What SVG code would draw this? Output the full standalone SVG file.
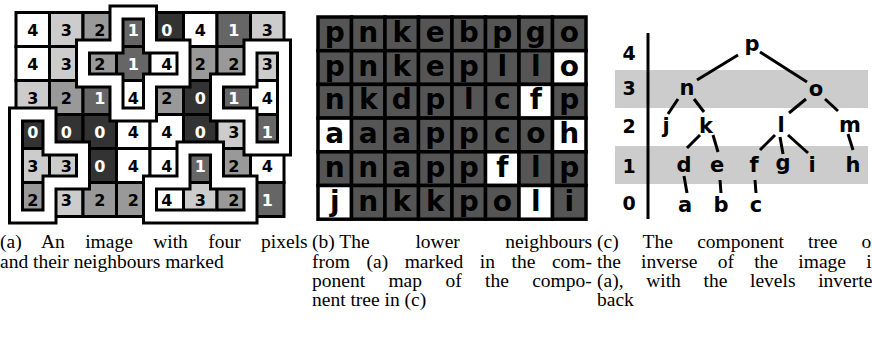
<svg xmlns="http://www.w3.org/2000/svg" width="872" height="338" viewBox="0 0 872 338">
<style>
.c4{fill:#fff}.c3{fill:#ccc}.c2{fill:#999}.c1{fill:#666}.c0{fill:#333}
#panel-a rect{stroke:#000;stroke-width:3}
.da{font-family:"DejaVu Sans",sans-serif;font-weight:bold;font-size:16px;text-anchor:middle;fill:#000}
.da.w{fill:#fff}
.bandk{fill:none;stroke:#000;stroke-width:16;stroke-linejoin:miter}
.bandw{fill:none;stroke:#fff;stroke-width:10;stroke-linejoin:miter}
#panel-b rect{fill:#555;stroke:#000;stroke-width:3.5}
#panel-b rect.w{fill:#fff}
.lb{font-family:"DejaVu Sans",sans-serif;font-weight:bold;font-size:28px;text-anchor:middle;fill:#000}
.tn{font-family:"DejaVu Sans",sans-serif;font-weight:bold;font-size:21px;text-anchor:middle;fill:#000}
.lv{font-family:"DejaVu Sans",sans-serif;font-weight:bold;font-size:19px;text-anchor:middle;fill:#000}
.edge{stroke:#000;stroke-width:3;fill:none}
.cap{font-family:"Liberation Serif",serif;font-size:19.5px;fill:#000}
</style>

<g id="panel-a">
<g id="a-cells">
<rect class="c4" x="16" y="12.5" width="33.5" height="34"/><rect class="c3" x="49.5" y="12.5" width="33.5" height="34"/><rect class="c2" x="83" y="12.5" width="33.5" height="34"/><rect class="c1" x="116.5" y="12.5" width="33.5" height="34"/><rect class="c0" x="150" y="12.5" width="33.5" height="34"/><rect class="c4" x="183.5" y="12.5" width="33.5" height="34"/><rect class="c1" x="217" y="12.5" width="33.5" height="34"/><rect class="c3" x="250.5" y="12.5" width="33.5" height="34"/>
<rect class="c4" x="16" y="46.5" width="33.5" height="34"/><rect class="c3" x="49.5" y="46.5" width="33.5" height="34"/><rect class="c2" x="83" y="46.5" width="33.5" height="34"/><rect class="c1" x="116.5" y="46.5" width="33.5" height="34"/><rect class="c4" x="150" y="46.5" width="33.5" height="34"/><rect class="c2" x="183.5" y="46.5" width="33.5" height="34"/><rect class="c2" x="217" y="46.5" width="33.5" height="34"/><rect class="c3" x="250.5" y="46.5" width="33.5" height="34"/>
<rect class="c3" x="16" y="80.5" width="33.5" height="34"/><rect class="c2" x="49.5" y="80.5" width="33.5" height="34"/><rect class="c1" x="83" y="80.5" width="33.5" height="34"/><rect class="c4" x="116.5" y="80.5" width="33.5" height="34"/><rect class="c2" x="150" y="80.5" width="33.5" height="34"/><rect class="c0" x="183.5" y="80.5" width="33.5" height="34"/><rect class="c1" x="217" y="80.5" width="33.5" height="34"/><rect class="c4" x="250.5" y="80.5" width="33.5" height="34"/>
<rect class="c0" x="16" y="114.5" width="33.5" height="34"/><rect class="c0" x="49.5" y="114.5" width="33.5" height="34"/><rect class="c0" x="83" y="114.5" width="33.5" height="34"/><rect class="c4" x="116.5" y="114.5" width="33.5" height="34"/><rect class="c4" x="150" y="114.5" width="33.5" height="34"/><rect class="c0" x="183.5" y="114.5" width="33.5" height="34"/><rect class="c3" x="217" y="114.5" width="33.5" height="34"/><rect class="c1" x="250.5" y="114.5" width="33.5" height="34"/>
<rect class="c3" x="16" y="148.5" width="33.5" height="34"/><rect class="c3" x="49.5" y="148.5" width="33.5" height="34"/><rect class="c0" x="83" y="148.5" width="33.5" height="34"/><rect class="c4" x="116.5" y="148.5" width="33.5" height="34"/><rect class="c4" x="150" y="148.5" width="33.5" height="34"/><rect class="c1" x="183.5" y="148.5" width="33.5" height="34"/><rect class="c2" x="217" y="148.5" width="33.5" height="34"/><rect class="c4" x="250.5" y="148.5" width="33.5" height="34"/>
<rect class="c2" x="16" y="182.5" width="33.5" height="34"/><rect class="c3" x="49.5" y="182.5" width="33.5" height="34"/><rect class="c2" x="83" y="182.5" width="33.5" height="34"/><rect class="c2" x="116.5" y="182.5" width="33.5" height="34"/><rect class="c4" x="150" y="182.5" width="33.5" height="34"/><rect class="c3" x="183.5" y="182.5" width="33.5" height="34"/><rect class="c2" x="217" y="182.5" width="33.5" height="34"/><rect class="c1" x="250.5" y="182.5" width="33.5" height="34"/>
</g>
<g id="a-marks">
<path class="bandk" d="M116.5,12.5H150V46.5H183.5V80.5H150V114.5H116.5V80.5H83V46.5H116.5Z"/>
<path class="bandk" d="M250.5,46.5H284V148.5H250.5V114.5H217V80.5H250.5Z"/>
<path class="bandk" d="M16,114.5H49.5V148.5H83V182.5H49.5V216.5H16Z"/>
<path class="bandk" d="M183.5,148.5H217V182.5H250.5V216.5H150V182.5H183.5Z"/>
<path class="bandw" d="M116.5,12.5H150V46.5H183.5V80.5H150V114.5H116.5V80.5H83V46.5H116.5Z"/>
<path class="bandw" d="M250.5,46.5H284V148.5H250.5V114.5H217V80.5H250.5Z"/>
<path class="bandw" d="M16,114.5H49.5V148.5H83V182.5H49.5V216.5H16Z"/>
<path class="bandw" d="M183.5,148.5H217V182.5H250.5V216.5H150V182.5H183.5Z"/>
</g>
<g id="a-values">
<text class="da" x="32.75" y="35.5">4</text><text class="da" x="66.25" y="35.5">3</text><text class="da" x="99.75" y="35.5">2</text><text class="da w" x="133.25" y="35.5">1</text><text class="da w" x="166.75" y="35.5">0</text><text class="da" x="200.25" y="35.5">4</text><text class="da w" x="233.75" y="35.5">1</text><text class="da" x="267.25" y="35.5">3</text>
<text class="da" x="32.75" y="69.5">4</text><text class="da" x="66.25" y="69.5">3</text><text class="da" x="99.75" y="69.5">2</text><text class="da w" x="133.25" y="69.5">1</text><text class="da" x="166.75" y="69.5">4</text><text class="da" x="200.25" y="69.5">2</text><text class="da" x="233.75" y="69.5">2</text><text class="da" x="267.25" y="69.5">3</text>
<text class="da" x="32.75" y="103.5">3</text><text class="da" x="66.25" y="103.5">2</text><text class="da w" x="99.75" y="103.5">1</text><text class="da" x="133.25" y="103.5">4</text><text class="da" x="166.75" y="103.5">2</text><text class="da w" x="200.25" y="103.5">0</text><text class="da w" x="233.75" y="103.5">1</text><text class="da" x="267.25" y="103.5">4</text>
<text class="da w" x="32.75" y="137.5">0</text><text class="da w" x="66.25" y="137.5">0</text><text class="da w" x="99.75" y="137.5">0</text><text class="da" x="133.25" y="137.5">4</text><text class="da" x="166.75" y="137.5">4</text><text class="da w" x="200.25" y="137.5">0</text><text class="da" x="233.75" y="137.5">3</text><text class="da w" x="267.25" y="137.5">1</text>
<text class="da" x="32.75" y="171.5">3</text><text class="da" x="66.25" y="171.5">3</text><text class="da w" x="99.75" y="171.5">0</text><text class="da" x="133.25" y="171.5">4</text><text class="da" x="166.75" y="171.5">4</text><text class="da w" x="200.25" y="171.5">1</text><text class="da" x="233.75" y="171.5">2</text><text class="da" x="267.25" y="171.5">4</text>
<text class="da" x="32.75" y="205.5">2</text><text class="da" x="66.25" y="205.5">3</text><text class="da" x="99.75" y="205.5">2</text><text class="da" x="133.25" y="205.5">2</text><text class="da" x="166.75" y="205.5">4</text><text class="da" x="200.25" y="205.5">3</text><text class="da" x="233.75" y="205.5">2</text><text class="da w" x="267.25" y="205.5">1</text>
</g>
</g>

<g id="panel-b">
<g id="b-cells">
<rect x="318" y="17" width="33.5" height="33.7"/><rect x="351.5" y="17" width="33.5" height="33.7"/><rect x="385" y="17" width="33.5" height="33.7"/><rect x="418.5" y="17" width="33.5" height="33.7"/><rect x="452" y="17" width="33.5" height="33.7"/><rect x="485.5" y="17" width="33.5" height="33.7"/><rect x="519" y="17" width="33.5" height="33.7"/><rect x="552.5" y="17" width="33.5" height="33.7"/>
<rect x="318" y="50.7" width="33.5" height="33.7"/><rect x="351.5" y="50.7" width="33.5" height="33.7"/><rect x="385" y="50.7" width="33.5" height="33.7"/><rect x="418.5" y="50.7" width="33.5" height="33.7"/><rect x="452" y="50.7" width="33.5" height="33.7"/><rect x="485.5" y="50.7" width="33.5" height="33.7"/><rect x="519" y="50.7" width="33.5" height="33.7"/><rect class="w" x="552.5" y="50.7" width="33.5" height="33.7"/>
<rect x="318" y="84.4" width="33.5" height="33.7"/><rect x="351.5" y="84.4" width="33.5" height="33.7"/><rect x="385" y="84.4" width="33.5" height="33.7"/><rect x="418.5" y="84.4" width="33.5" height="33.7"/><rect x="452" y="84.4" width="33.5" height="33.7"/><rect x="485.5" y="84.4" width="33.5" height="33.7"/><rect class="w" x="519" y="84.4" width="33.5" height="33.7"/><rect x="552.5" y="84.4" width="33.5" height="33.7"/>
<rect class="w" x="318" y="118.1" width="33.5" height="33.7"/><rect x="351.5" y="118.1" width="33.5" height="33.7"/><rect x="385" y="118.1" width="33.5" height="33.7"/><rect x="418.5" y="118.1" width="33.5" height="33.7"/><rect x="452" y="118.1" width="33.5" height="33.7"/><rect x="485.5" y="118.1" width="33.5" height="33.7"/><rect x="519" y="118.1" width="33.5" height="33.7"/><rect class="w" x="552.5" y="118.1" width="33.5" height="33.7"/>
<rect x="318" y="151.8" width="33.5" height="33.7"/><rect x="351.5" y="151.8" width="33.5" height="33.7"/><rect x="385" y="151.8" width="33.5" height="33.7"/><rect x="418.5" y="151.8" width="33.5" height="33.7"/><rect x="452" y="151.8" width="33.5" height="33.7"/><rect class="w" x="485.5" y="151.8" width="33.5" height="33.7"/><rect x="519" y="151.8" width="33.5" height="33.7"/><rect x="552.5" y="151.8" width="33.5" height="33.7"/>
<rect class="w" x="318" y="185.5" width="33.5" height="33.7"/><rect x="351.5" y="185.5" width="33.5" height="33.7"/><rect x="385" y="185.5" width="33.5" height="33.7"/><rect x="418.5" y="185.5" width="33.5" height="33.7"/><rect x="452" y="185.5" width="33.5" height="33.7"/><rect x="485.5" y="185.5" width="33.5" height="33.7"/><rect class="w" x="519" y="185.5" width="33.5" height="33.7"/><rect x="552.5" y="185.5" width="33.5" height="33.7"/>
</g>
<g id="b-labels">
<text class="lb" x="334.75" y="42">p</text><text class="lb" x="368.25" y="42">n</text><text class="lb" x="401.75" y="42">k</text><text class="lb" x="435.25" y="42">e</text><text class="lb" x="468.75" y="42">b</text><text class="lb" x="502.25" y="42">p</text><text class="lb" x="535.75" y="42">g</text><text class="lb" x="569.25" y="42">o</text>
<text class="lb" x="334.75" y="75.7">p</text><text class="lb" x="368.25" y="75.7">n</text><text class="lb" x="401.75" y="75.7">k</text><text class="lb" x="435.25" y="75.7">e</text><text class="lb" x="468.75" y="75.7">p</text><text class="lb" x="502.25" y="75.7">l</text><text class="lb" x="535.75" y="75.7">l</text><text class="lb" x="569.25" y="75.7">o</text>
<text class="lb" x="334.75" y="109.4">n</text><text class="lb" x="368.25" y="109.4">k</text><text class="lb" x="401.75" y="109.4">d</text><text class="lb" x="435.25" y="109.4">p</text><text class="lb" x="468.75" y="109.4">l</text><text class="lb" x="502.25" y="109.4">c</text><text class="lb" x="535.75" y="109.4">f</text><text class="lb" x="569.25" y="109.4">p</text>
<text class="lb" x="334.75" y="143.1">a</text><text class="lb" x="368.25" y="143.1">a</text><text class="lb" x="401.75" y="143.1">a</text><text class="lb" x="435.25" y="143.1">p</text><text class="lb" x="468.75" y="143.1">p</text><text class="lb" x="502.25" y="143.1">c</text><text class="lb" x="535.75" y="143.1">o</text><text class="lb" x="569.25" y="143.1">h</text>
<text class="lb" x="334.75" y="176.8">n</text><text class="lb" x="368.25" y="176.8">n</text><text class="lb" x="401.75" y="176.8">a</text><text class="lb" x="435.25" y="176.8">p</text><text class="lb" x="468.75" y="176.8">p</text><text class="lb" x="502.25" y="176.8">f</text><text class="lb" x="535.75" y="176.8">l</text><text class="lb" x="569.25" y="176.8">p</text>
<text class="lb" x="334.75" y="210.5">j</text><text class="lb" x="368.25" y="210.5">n</text><text class="lb" x="401.75" y="210.5">k</text><text class="lb" x="435.25" y="210.5">k</text><text class="lb" x="468.75" y="210.5">p</text><text class="lb" x="502.25" y="210.5">o</text><text class="lb" x="535.75" y="210.5">l</text><text class="lb" x="569.25" y="210.5">i</text>
</g>
</g>

<g id="panel-c">
<rect x="615" y="70" width="253" height="38" fill="#ccc"/>
<rect x="615" y="146" width="253" height="38" fill="#ccc"/>
<line class="edge" x1="648" y1="33" x2="648" y2="219"/>
<g id="levels">
<text class="lv" x="629" y="60">4</text>
<text class="lv" x="629" y="95">3</text>
<text class="lv" x="629" y="133">2</text>
<text class="lv" x="629" y="173">1</text>
<text class="lv" x="629" y="210">0</text>
</g>
<g id="connectors">
<line class="edge" x1="697" y1="80" x2="738" y2="55"/>
<line class="edge" x1="760" y1="52" x2="807" y2="82"/>
<line class="edge" x1="678" y1="99" x2="668" y2="114"/>
<line class="edge" x1="694" y1="99" x2="704" y2="112"/>
<line class="edge" x1="806" y1="99" x2="789" y2="113"/>
<line class="edge" x1="825" y1="99" x2="838" y2="111"/>
<line class="edge" x1="700" y1="135" x2="687" y2="148"/>
<line class="edge" x1="713" y1="135" x2="718" y2="152"/>
<line class="edge" x1="684" y1="176" x2="687" y2="193"/>
<line class="edge" x1="720" y1="180" x2="721" y2="193"/>
<line class="edge" x1="775" y1="135" x2="760" y2="150"/>
<line class="edge" x1="780" y1="137" x2="783" y2="154"/>
<line class="edge" x1="788" y1="135" x2="808" y2="153"/>
<line class="edge" x1="848" y1="134" x2="853" y2="150"/>
<line class="edge" x1="755" y1="180" x2="756" y2="193"/>
</g>
<g id="node-p"><text class="tn" x="752" y="51">p</text></g>
<g id="node-n"><text class="tn" x="687" y="95">n</text></g>
<g id="node-o"><text class="tn" x="816" y="96">o</text></g>
<g id="node-j"><text class="tn" x="666" y="133">j</text></g>
<g id="node-k"><text class="tn" x="706" y="133">k</text></g>
<g id="node-l"><text class="tn" x="781" y="132">l</text></g>
<g id="node-m"><text class="tn" x="850" y="132">m</text></g>
<g id="node-d"><text class="tn" x="684" y="172">d</text></g>
<g id="node-e"><text class="tn" x="717" y="172">e</text></g>
<g id="node-f"><text class="tn" x="754" y="172">f</text></g>
<g id="node-g"><text class="tn" x="783" y="170">g</text></g>
<g id="node-i"><text class="tn" x="812" y="172">i</text></g>
<g id="node-h"><text class="tn" x="853" y="172">h</text></g>
<g id="node-a"><text class="tn" x="685" y="212">a</text></g>
<g id="node-b"><text class="tn" x="721" y="212">b</text></g>
<g id="node-c"><text class="tn" x="756" y="212">c</text></g>
</g>

<g id="captions">
<text class="cap" x="0" y="248" word-spacing="15.5">(a) An image with four pixels</text>
<text class="cap" x="0" y="267.5">and their neighbours marked</text>
<text class="cap" y="248"><tspan x="312">(b) The</tspan><tspan x="415.4">lower</tspan><tspan x="592" text-anchor="end">neighbours</tspan></text>
<text class="cap" x="312" y="267.5" word-spacing="11.7">from (a) marked in the com-</text>
<text class="cap" x="312" y="287" word-spacing="18.5">ponent map of the compo-</text>
<text class="cap" x="312" y="306">nent tree in (c)</text>
<text class="cap" x="597" y="248" word-spacing="19.4">(c) The component tree of</text>
<text class="cap" x="597" y="267.5" word-spacing="15.4">the inverse of the image in</text>
<text class="cap" x="597" y="287" word-spacing="17.8">(a), with the levels inverted</text>
<text class="cap" x="597" y="306">back</text>
</g>
</svg>
